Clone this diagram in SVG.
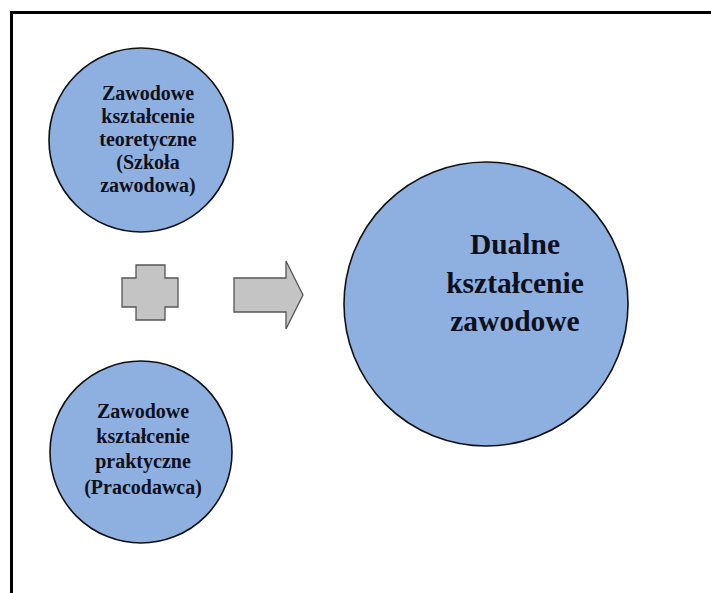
<svg xmlns="http://www.w3.org/2000/svg" width="711" height="593" viewBox="0 0 711 593">
<style>
.c{fill:#8eb0e0;stroke:#111;stroke-width:1.6}
.t{font-family:'Liberation Serif','Times New Roman','DejaVu Serif',serif;font-weight:bold;fill:#10101c;text-anchor:middle}
.s{font-size:20px}
.b{font-size:29.5px}
.g{fill:#c4c4c4;stroke:#555;stroke-width:1.3}
</style>
<rect width="711" height="593" fill="#fff"/>
<rect x="11.5" y="12.5" width="720" height="600" fill="none" stroke="#000" stroke-width="3"/>
<g id="teoria">
<circle class="c" cx="141" cy="140" r="92"/>
<text class="t s"><tspan x="148" y="100">Zawodowe</tspan><tspan x="148" y="123">kształcenie</tspan><tspan x="148" y="146">teoretyczne</tspan><tspan x="148" y="169">(Szkoła</tspan><tspan x="148" y="192">zawodowa)</tspan></text>
</g>
<g id="praktyka">
<circle class="c" cx="141" cy="452" r="91"/>
<text class="t s"><tspan x="143" y="418">Zawodowe</tspan><tspan x="143" y="443">kształcenie</tspan><tspan x="143" y="468">praktyczne</tspan><tspan x="143" y="494">(Pracodawca)</tspan></text>
</g>
<g id="plus">
<path class="g" d="M136,265H165V278H178V307H165V320H136V307H122V278H136Z"/>
</g>
<g id="strzalka">
<path class="g" d="M234,278H286V261L303,295L286,329V312H234Z"/>
</g>
<g id="dualne">
<circle class="c" cx="486" cy="304" r="142"/>
<text class="t b"><tspan x="515" y="254">Dualne</tspan><tspan x="515" y="293">kształcenie</tspan><tspan x="515" y="331">zawodowe</tspan></text>
</g>
</svg>
